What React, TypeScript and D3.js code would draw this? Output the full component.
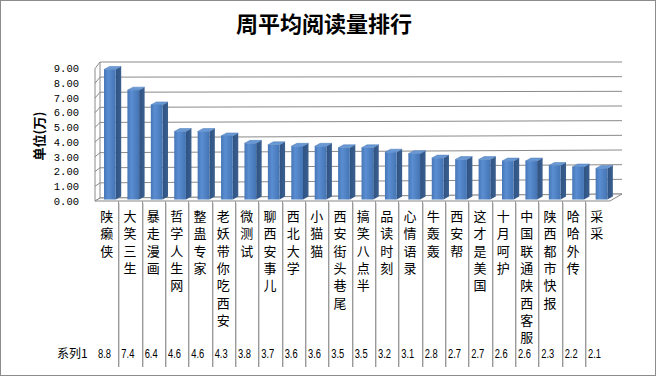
import React from 'react';
import * as d3 from 'd3';

const title = '周平均阅读量排行';
const yTitle = '单位(万)';
const seriesName = '系列1';
const categories = ['陕癞侠', '大笑三生', '暴走漫画', '哲学人生网', '整蛊专家', '老妖带你吃西安', '微测试', '聊西安事儿', '西北大学', '小猫猫', '西安街头巷尾', '搞笑八点半', '品读时刻', '心情语录', '牛轰轰', '西安帮', '这才是美国', '十月呵护', '中国联通陕西客服', '陕西都市快报', '哈哈外传', '采采'];
const values = [8.8, 7.4, 6.4, 4.6, 4.6, 4.3, 3.8, 3.7, 3.6, 3.6, 3.5, 3.5, 3.2, 3.1, 2.8, 2.7, 2.7, 2.6, 2.6, 2.3, 2.2, 2.1];
const yTicks = [0, 1, 2, 3, 4, 5, 6, 7, 8, 9];

export default function App() {
  const W = 657, H = 377;
  const x = d3.scaleBand<string>().domain(categories).range([95, 608.3]).paddingInner(0).paddingOuter(0);
  const yFront = d3.scaleLinear().domain([0, 9]).range([201, 68.5]);
  const yBar = d3.scaleLinear().domain([0, 9]).range([199.5, 66.5]);
  const yBackL = d3.scaleLinear().domain([0, 9]).range([198, 62]);
  const yBackR = d3.scaleLinear().domain([0, 9]).range([194, 62]);
  const backL = 100, backR = 622;
  const base = yBar(0);
  const dx = 5.5, dy = -3;
  const bw = 11.7;
  const cjk = '"Noto Sans CJK SC", sans-serif';
  const gridColor = '#8a8a8a';

  return (
    <svg width={W} height={H} style={{ position: 'absolute', left: 0, top: 0, background: '#fff' }}>
      <defs>
        <linearGradient id="front" x1="0" x2="1" y1="0" y2="0">
          <stop offset="0%" stopColor="#4676b6" />
          <stop offset="35%" stopColor="#5a8ed2" />
          <stop offset="100%" stopColor="#4474b3" />
        </linearGradient>
        <linearGradient id="side" x1="0" x2="1" y1="0" y2="0">
          <stop offset="0%" stopColor="#2f5384" />
          <stop offset="100%" stopColor="#3a5f8e" />
        </linearGradient>
      </defs>
      <rect x={0.5} y={0.5} width={655} height={375} fill="#fff" stroke="#8c8c8c" />
      <text x={324} y={32} textAnchor="middle" fontFamily={cjk} fontSize={22} fontWeight={600} fill="#000">{title}</text>

      {/* y axis title */}
      <text transform="translate(44,136) rotate(-90)" textAnchor="middle" fontFamily={cjk} fontSize={13} fontWeight="bold" fill="#000">{yTitle}</text>

      {/* back wall gridlines */}
      {yTicks.map(t => (
        <line key={'g' + t} x1={backL} y1={yBackL(t)} x2={backR} y2={yBackR(t)} stroke={gridColor} strokeWidth={1} />
      ))}
      <line x1={backL} y1={yBackL(0)} x2={backL} y2={yBackL(9)} stroke={gridColor} />
      {/* side wall */}
      <line x1={95} y1={yFront(0)} x2={95} y2={yFront(9)} stroke={gridColor} />
      {yTicks.map(t => (
        <line key={'s' + t} x1={95} y1={yFront(t)} x2={backL} y2={yBackL(t)} stroke={gridColor} />
      ))}
      {/* floor */}
      <polygon points={`95,${yFront(0)} 610,${yFront(0)} ${backR},${yBackR(0)} ${backL},${yBackL(0)}`} fill="#fafafa" stroke={gridColor} />

      {/* tick labels */}
      {yTicks.map(t => (
        <text key={'t' + t} x={79} y={yFront(t)} dy="0.35em" textAnchor="end" fontFamily='"Liberation Mono", monospace' fontSize={10.5} fill="#000">{t.toFixed(2)}</text>
      ))}

      {/* bars */}
      {categories.map((c, i) => {
        const v = values[i];
        const x0 = (x(c) as number) + 9 + i * 0.08;
        const top = yBar(v);
        return (
          <g key={'b' + i}>
            <polygon points={`${x0 + bw},${top} ${x0 + bw + dx},${top + dy} ${x0 + bw + dx},${base + dy} ${x0 + bw},${base}`} fill="url(#side)" />
            <polygon points={`${x0},${top} ${x0 + dx},${top + dy} ${x0 + bw + dx},${top + dy} ${x0 + bw},${top}`} fill="#6a9ad6" stroke="#4a78b4" strokeWidth={0.5} />
            <rect x={x0} y={top} width={bw} height={base - top} fill="url(#front)" />
          </g>
        );
      })}

      {/* category dividers */}
      {categories.slice(1).map((c, i) => {
        const xx = Math.round(x(c) as number);
        return (
          <g key={'d' + i}>
            <line x1={xx + 0.5} y1={yFront(0)} x2={xx + 0.5} y2={367} stroke="#9a9a9a" />
            <line x1={xx + 1.5} y1={yFront(0) + 2} x2={xx + 1.5} y2={367} stroke="#d6d6d6" />
          </g>
        );
      })}

      {/* category labels (vertical) */}
      {categories.map((c, i) => {
        const cx = (x(c) as number) + x.bandwidth() / 2;
        return (
          <text key={'c' + i} fontFamily={cjk} fontSize={13} fill="#000" textAnchor="middle">
            {Array.from(c).map((ch, k) => (
              <tspan key={k} x={cx} y={221 + k * 17.3}>{ch}</tspan>
            ))}
          </text>
        );
      })}

      {/* data table row */}
      <text x={57} y={358} fontFamily={cjk} fontSize={12} fill="#000">{seriesName}</text>
      {categories.map((c, i) => (
        <text key={'v' + i} x={(x(c) as number) + 3} y={357.5} fontFamily='"Liberation Sans", sans-serif' fontSize={12} fill="#000" textLength={13} lengthAdjust="spacingAndGlyphs">{values[i].toFixed(1)}</text>
      ))}
    </svg>
  );
}
